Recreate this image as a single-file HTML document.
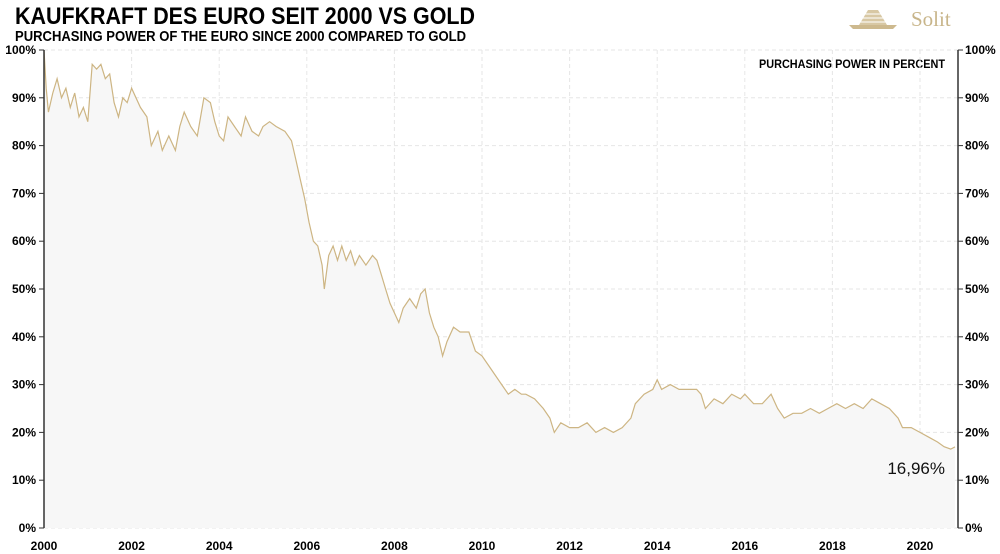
<!DOCTYPE html>
<html><head><meta charset="utf-8"><style>
html,body{margin:0;padding:0;background:#fff;}
svg{display:block;font-family:"Liberation Sans",sans-serif;}
</style></head><body>
<svg id="chart" width="1000" height="554" viewBox="0 0 1000 554">
<text x="15" y="24" font-size="24" font-weight="bold" textLength="460" lengthAdjust="spacingAndGlyphs" fill="#000">KAUFKRAFT DES EURO SEIT 2000 VS GOLD</text>
<text x="15" y="41" font-size="15" font-weight="bold" textLength="451" lengthAdjust="spacingAndGlyphs" fill="#000">PURCHASING POWER OF THE EURO SINCE 2000 COMPARED TO GOLD</text>
<g>
<polygon points="868,10 878,10 887,25 859,25" fill="#d8c8a4"/>
<line x1="864" y1="14" x2="882" y2="14" stroke="#fff" stroke-width="1"/>
<line x1="862" y1="18" x2="884" y2="18" stroke="#fff" stroke-width="1"/>
<line x1="860" y1="22" x2="886" y2="22" stroke="#fff" stroke-width="1"/>
<polygon points="849,25 897,25 893,29 853,29" fill="#cdb98e"/>
<text x="911" y="26" font-family="Liberation Serif,serif" font-size="21" fill="#c8b58a">Solit</text>
</g>
<text x="945" y="68" font-size="12" font-weight="bold" text-anchor="end" textLength="186" lengthAdjust="spacingAndGlyphs">PURCHASING POWER IN PERCENT</text>
<g id="grid"></g>
<path id="area" fill="#f7f7f7"/>
<path id="line" fill="none" stroke="#cdb583" stroke-width="1.2"/>
<g id="axes"></g>
<text x="945" y="474" font-size="17" text-anchor="end" fill="#111">16,96%</text>
</svg>
<script>
const years=[2000,2002,2004,2006,2008,2010,2012,2014,2016,2018,2020];
const yTicks=[0,10,20,30,40,50,60,70,80,90,100];
const dates=[2000,2000.05,2000.1,2000.2,2000.3,2000.4,2000.5,2000.6,2000.7,2000.8,2000.9,2001,2001.1,2001.2,2001.3,2001.4,2001.5,2001.6,2001.7,2001.8,2001.9,2002,2002.2,2002.35,2002.45,2002.6,2002.7,2002.85,2003,2003.1,2003.2,2003.35,2003.5,2003.65,2003.8,2003.9,2004,2004.1,2004.2,2004.35,2004.5,2004.6,2004.75,2004.9,2005,2005.15,2005.3,2005.5,2005.65,2005.75,2005.85,2005.95,2006.05,2006.15,2006.25,2006.35,2006.4,2006.5,2006.6,2006.7,2006.8,2006.9,2007,2007.1,2007.2,2007.35,2007.5,2007.6,2007.7,2007.8,2007.9,2008,2008.1,2008.2,2008.35,2008.5,2008.6,2008.7,2008.8,2008.9,2009,2009.1,2009.2,2009.35,2009.5,2009.7,2009.85,2010,2010.15,2010.3,2010.45,2010.6,2010.75,2010.9,2011,2011.2,2011.4,2011.55,2011.65,2011.8,2012,2012.2,2012.4,2012.6,2012.8,2013,2013.2,2013.4,2013.5,2013.7,2013.9,2014,2014.1,2014.3,2014.5,2014.7,2014.9,2015,2015.1,2015.3,2015.5,2015.7,2015.9,2016,2016.2,2016.4,2016.6,2016.75,2016.9,2017.1,2017.3,2017.5,2017.7,2017.9,2018.1,2018.3,2018.5,2018.7,2018.9,2019.1,2019.3,2019.5,2019.6,2019.8,2020,2020.2,2020.4,2020.55,2020.7,2020.8];
const values=[100,92,87,91,94,90,92,88,91,86,88,85,97,96,97,94,95,89,86,90,89,92,88,86,80,83,79,82,79,84,87,84,82,90,89,85,82,81,86,84,82,86,83,82,84,85,84,83,81,77,73,69,64,60,59,55,50,57,59,56,59,56,58,55,57,55,57,56,53,50,47,45,43,46,48,46,49,50,45,42,40,36,39,42,41,41,37,36,34,32,30,28,29,28,28,27,25,23,20,22,21,21,22,20,21,20,21,23,26,28,29,31,29,30,29,29,29,28,25,27,26,28,27,28,26,26,28,25,23,24,24,25,24,25,26,25,26,25,27,26,25,23,21,21,20,19,18,17,16.5,16.96];
const L=44,R=958,T=50,B=528,x0=2000,xPer=43.8;
const xs=v=>L+(v-x0)*xPer, ys=v=>B-(B-T)*v/100;
const NS='http://www.w3.org/2000/svg';
const grid=document.getElementById('grid'),axes=document.getElementById('axes');
function mk(tag,at,parent){const e=document.createElementNS(NS,tag);for(const k in at)e.setAttribute(k,at[k]);parent.appendChild(e);return e;}
yTicks.forEach(t=>{
 const g=mk('line',{x1:L,x2:R,y1:ys(t),y2:ys(t),stroke:'#e6e6e6','stroke-dasharray':'4,3'},grid);
 
 
 mk('line',{x1:L-5,x2:L,y1:ys(t),y2:ys(t),stroke:'#333'},axes);
 mk('line',{x1:R,x2:R+5,y1:ys(t),y2:ys(t),stroke:'#333'},axes);
 const a=mk('text',{x:L-8,y:ys(t)+4,'font-size':12,'font-weight':'bold','text-anchor':'end'},axes);a.textContent=t+'%';
 
 
 const b=mk('text',{x:R+7,y:ys(t)+4,'font-size':12,'font-weight':'bold'},axes);b.textContent=t+'%';
 
 
});
years.forEach(y=>{
 if(y>2000){const g=mk('line',{x1:xs(y),x2:xs(y),y1:T,y2:B,stroke:'#e6e6e6','stroke-dasharray':'4,3'},grid);
 
 }
 const t=mk('text',{x:xs(y),y:550,'font-size':12,'font-weight':'bold','text-anchor':'middle'},axes);t.textContent=y;
 
 
});
mk('line',{x1:L,x2:L,y1:T,y2:B,stroke:'#333','stroke-width':1.5},axes);
mk('line',{x1:R,x2:R,y1:T,y2:B,stroke:'#333','stroke-width':1.5},axes);
let d='';dates.forEach((t,i)=>{d+=(i?'L':'M')+xs(t).toFixed(1)+','+ys(values[i]).toFixed(1);});
document.getElementById('line').setAttribute('d',d);
document.getElementById('area').setAttribute('d',d+'L'+xs(dates[dates.length-1]).toFixed(1)+','+B+'L'+L+','+B+'Z');
</script>
</body></html>
